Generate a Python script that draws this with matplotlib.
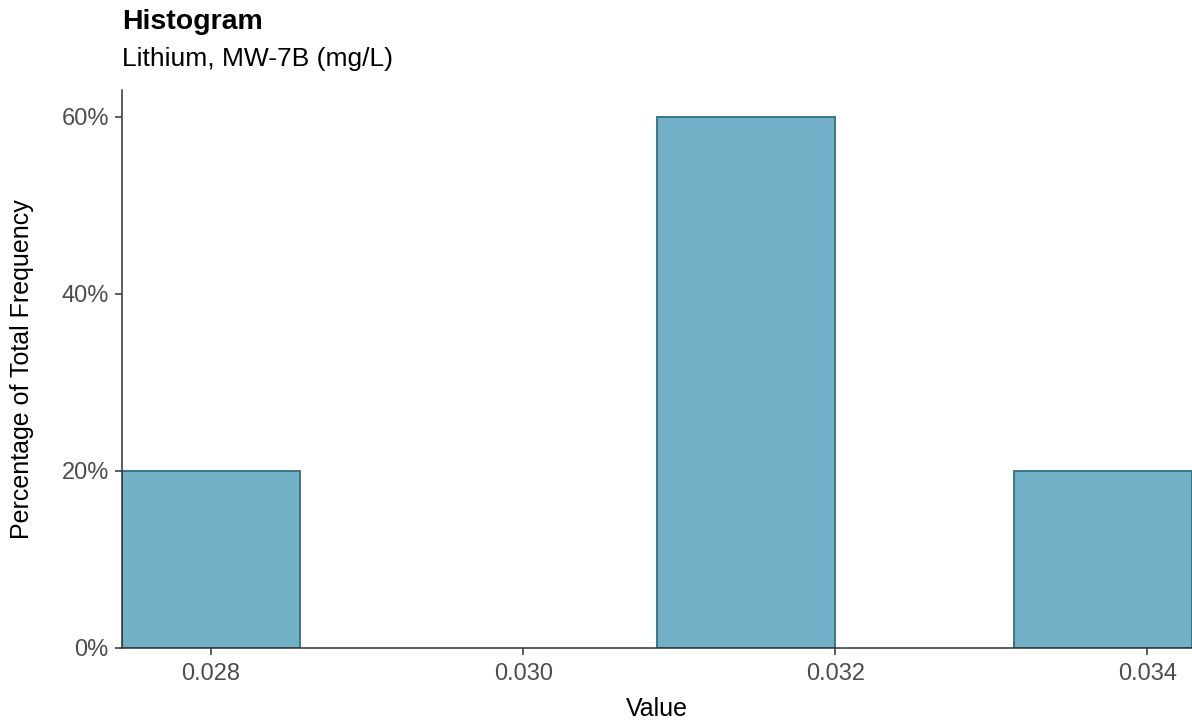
import matplotlib
matplotlib.use("Agg")
import matplotlib.pyplot as plt
from matplotlib.ticker import FuncFormatter, FixedLocator

plt.rcParams['font.family'] = ['Liberation Sans', 'DejaVu Sans']

# Histogram data: bin edges (mg/L) and percentage of total frequency per bin
bin_edges = [0.027429, 0.028571, 0.029714, 0.030857, 0.032000, 0.033143, 0.034286]
percents = [20, 0, 0, 60, 0, 20]
x_ticks = [0.028, 0.030, 0.032, 0.034]
y_ticks = [0, 20, 40, 60]

title = "Histogram"
subtitle = "Lithium, MW-7B (mg/L)"
x_label = "Value"
y_label = "Percentage of Total Frequency"

fill_color = "#71B0C6"
edge_color = "#2F6E84"

W, H = 1192, 724
fig = plt.figure(figsize=(W / 100, H / 100), dpi=100)
left, right, top, bottom = 122, 1192, 90, 648
ax = fig.add_axes([left / W, 1 - bottom / H, (right - left) / W, (bottom - top) / H])

lefts = bin_edges[:-1]
widths = [b - a for a, b in zip(bin_edges[:-1], bin_edges[1:])]
for l, w, p in zip(lefts, widths, percents):
    if p > 0:
        ax.bar(l, p, width=w, align='edge', color=fill_color,
               edgecolor=edge_color, linewidth=1.3, zorder=2)

ax.set_xlim(bin_edges[0], bin_edges[-1])
ax.set_ylim(0, max(percents) * 1.05)

ax.xaxis.set_major_locator(FixedLocator(x_ticks))
ax.yaxis.set_major_locator(FixedLocator(y_ticks))
ax.xaxis.set_major_formatter(FuncFormatter(lambda v, p: f"{v:.3f}"))
ax.yaxis.set_major_formatter(FuncFormatter(lambda v, p: f"{v:.0f}%"))

for s in ['top', 'right']:
    ax.spines[s].set_visible(False)
for s in ['left', 'bottom']:
    ax.spines[s].set_color('#333333')
    ax.spines[s].set_linewidth(1.1)
    ax.spines[s].set_zorder(3)

ax.tick_params(axis='both', length=5, width=1.1, color='#333333',
               labelsize=17, labelcolor='#4D4D4D')
ax.tick_params(axis='x', pad=5.5)
ax.tick_params(axis='y', pad=4.5)

ax.set_xlabel(x_label, fontsize=18, color='black', labelpad=9)
ax.set_ylabel(y_label, fontsize=18, color='black', labelpad=20)

fig.text(left / W, 1 - 29 / H, title, fontsize=20.5, fontweight='bold',
         ha='left', va='baseline')
fig.text(left / W, 1 - 66 / H, subtitle, fontsize=19,
         ha='left', va='baseline')

fig.savefig("out.png", dpi=100, facecolor='white')
